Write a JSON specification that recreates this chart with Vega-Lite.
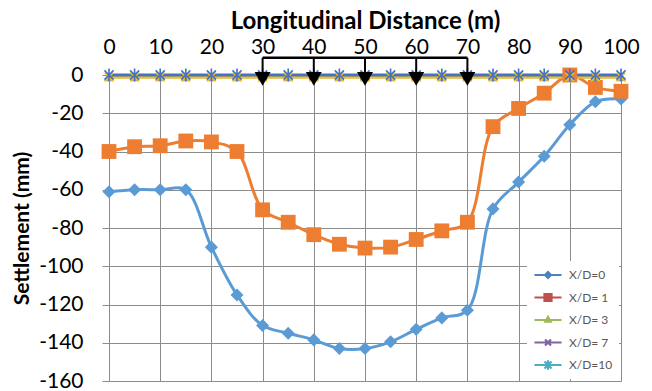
{
  "$schema": "https://vega.github.io/schema/vega-lite/v6.json",
  "width": 512,
  "height": 306,
  "autosize": {"type": "none"},
  "padding": {"left": 109, "top": 75, "right": 31, "bottom": 10},
  "background": "white",
  "config": {"font": "Lato", "view": {"stroke": null}},
  "datasets": {
    "main": [
      {"x": 0, "s": "X/D=0", "y": -61}, {"x": 5, "s": "X/D=0", "y": -60}, {"x": 10, "s": "X/D=0", "y": -60}, {"x": 15, "s": "X/D=0", "y": -60}, {"x": 20, "s": "X/D=0", "y": -90}, {"x": 25, "s": "X/D=0", "y": -115}, {"x": 30, "s": "X/D=0", "y": -131}, {"x": 35, "s": "X/D=0", "y": -135}, {"x": 40, "s": "X/D=0", "y": -138.5}, {"x": 45, "s": "X/D=0", "y": -143}, {"x": 50, "s": "X/D=0", "y": -143}, {"x": 55, "s": "X/D=0", "y": -139.5}, {"x": 60, "s": "X/D=0", "y": -133}, {"x": 65, "s": "X/D=0", "y": -127}, {"x": 70, "s": "X/D=0", "y": -123}, {"x": 75, "s": "X/D=0", "y": -70}, {"x": 80, "s": "X/D=0", "y": -56}, {"x": 85, "s": "X/D=0", "y": -42.5}, {"x": 90, "s": "X/D=0", "y": -26}, {"x": 95, "s": "X/D=0", "y": -14}, {"x": 100, "s": "X/D=0", "y": -12.5},
      {"x": 0, "s": "X/D= 1", "y": -40}, {"x": 5, "s": "X/D= 1", "y": -37.5}, {"x": 10, "s": "X/D= 1", "y": -37}, {"x": 15, "s": "X/D= 1", "y": -34.5}, {"x": 20, "s": "X/D= 1", "y": -35}, {"x": 25, "s": "X/D= 1", "y": -40}, {"x": 30, "s": "X/D= 1", "y": -70.5}, {"x": 35, "s": "X/D= 1", "y": -77}, {"x": 40, "s": "X/D= 1", "y": -83.5}, {"x": 45, "s": "X/D= 1", "y": -88.5}, {"x": 50, "s": "X/D= 1", "y": -90.5}, {"x": 55, "s": "X/D= 1", "y": -90}, {"x": 60, "s": "X/D= 1", "y": -86}, {"x": 65, "s": "X/D= 1", "y": -81.5}, {"x": 70, "s": "X/D= 1", "y": -77}, {"x": 75, "s": "X/D= 1", "y": -27}, {"x": 80, "s": "X/D= 1", "y": -17.5}, {"x": 85, "s": "X/D= 1", "y": -9.5}, {"x": 90, "s": "X/D= 1", "y": 0}, {"x": 95, "s": "X/D= 1", "y": -6.5}, {"x": 100, "s": "X/D= 1", "y": -8.5},
      {"x": 0, "s": "X/D= 3", "y": -1}, {"x": 5, "s": "X/D= 3", "y": -1}, {"x": 10, "s": "X/D= 3", "y": -1}, {"x": 15, "s": "X/D= 3", "y": -1}, {"x": 20, "s": "X/D= 3", "y": -1}, {"x": 25, "s": "X/D= 3", "y": -1}, {"x": 30, "s": "X/D= 3", "y": -1}, {"x": 35, "s": "X/D= 3", "y": -1}, {"x": 40, "s": "X/D= 3", "y": -1}, {"x": 45, "s": "X/D= 3", "y": -1}, {"x": 50, "s": "X/D= 3", "y": -1}, {"x": 55, "s": "X/D= 3", "y": -1}, {"x": 60, "s": "X/D= 3", "y": -1}, {"x": 65, "s": "X/D= 3", "y": -1}, {"x": 70, "s": "X/D= 3", "y": -1}, {"x": 75, "s": "X/D= 3", "y": -1}, {"x": 80, "s": "X/D= 3", "y": -1}, {"x": 85, "s": "X/D= 3", "y": -1}, {"x": 90, "s": "X/D= 3", "y": -1}, {"x": 95, "s": "X/D= 3", "y": -1}, {"x": 100, "s": "X/D= 3", "y": -1},
      {"x": 0, "s": "X/D= 7", "y": -1}, {"x": 5, "s": "X/D= 7", "y": -1}, {"x": 10, "s": "X/D= 7", "y": -1}, {"x": 15, "s": "X/D= 7", "y": -1}, {"x": 20, "s": "X/D= 7", "y": -1}, {"x": 25, "s": "X/D= 7", "y": -1}, {"x": 30, "s": "X/D= 7", "y": -1}, {"x": 35, "s": "X/D= 7", "y": -1}, {"x": 40, "s": "X/D= 7", "y": -1}, {"x": 45, "s": "X/D= 7", "y": -1}, {"x": 50, "s": "X/D= 7", "y": -1}, {"x": 55, "s": "X/D= 7", "y": -1}, {"x": 60, "s": "X/D= 7", "y": -1}, {"x": 65, "s": "X/D= 7", "y": -1}, {"x": 70, "s": "X/D= 7", "y": -1}, {"x": 75, "s": "X/D= 7", "y": -1}, {"x": 80, "s": "X/D= 7", "y": -1}, {"x": 85, "s": "X/D= 7", "y": -1}, {"x": 90, "s": "X/D= 7", "y": -1}, {"x": 95, "s": "X/D= 7", "y": -1}, {"x": 100, "s": "X/D= 7", "y": -1},
      {"x": 0, "s": "X/D=10", "y": 0}, {"x": 5, "s": "X/D=10", "y": 0}, {"x": 10, "s": "X/D=10", "y": 0}, {"x": 15, "s": "X/D=10", "y": 0}, {"x": 20, "s": "X/D=10", "y": 0}, {"x": 25, "s": "X/D=10", "y": 0}, {"x": 30, "s": "X/D=10", "y": 0}, {"x": 35, "s": "X/D=10", "y": 0}, {"x": 40, "s": "X/D=10", "y": 0}, {"x": 45, "s": "X/D=10", "y": 0}, {"x": 50, "s": "X/D=10", "y": 0}, {"x": 55, "s": "X/D=10", "y": 0}, {"x": 60, "s": "X/D=10", "y": 0}, {"x": 65, "s": "X/D=10", "y": 0}, {"x": 70, "s": "X/D=10", "y": 0}, {"x": 75, "s": "X/D=10", "y": 0}, {"x": 80, "s": "X/D=10", "y": 0}, {"x": 85, "s": "X/D=10", "y": 0}, {"x": 90, "s": "X/D=10", "y": 0}, {"x": 95, "s": "X/D=10", "y": 0}, {"x": 100, "s": "X/D=10", "y": 0}
    ],
    "tri": [{"x": 30, "y": -2}, {"x": 40, "y": -2}, {"x": 50, "y": -2}, {"x": 60, "y": -2}, {"x": 70, "y": -2}],
    "vr": [{"x": 30, "y": 9, "y2": -1}, {"x": 40, "y": 9, "y2": -1}, {"x": 50, "y": 9, "y2": -1}, {"x": 60, "y": 9, "y2": -1}, {"x": 70, "y": 9, "y2": -1}],
    "hr": [{"x": 30, "x2": 70, "y": 9}]
  },
  "encoding": {
    "x": {"field": "x", "type": "quantitative", "scale": {"domain": [0, 100], "nice": false, "zero": false},
      "axis": {"orient": "top", "title": "Longitudinal Distance (m)", "values": [0, 10, 20, 30, 40, 50, 60, 70, 80, 90, 100], "grid": true, "gridColor": "#8c8c8c", "domain": false, "ticks": false, "labelPadding": 18, "labelFontSize": 21, "labelColor": "black", "titleFontSize": 24, "titleFontWeight": "bold", "titleColor": "black", "titlePadding": 3, "labelFlush": false}},
    "y": {"field": "y", "type": "quantitative", "scale": {"domain": [-160, 0], "nice": false, "zero": false},
      "axis": {"title": "Settlement (mm)", "values": [0, -20, -40, -60, -80, -100, -120, -140, -160], "labelExpr": "replace(datum.label, '\u2212', '-')", "grid": true, "gridColor": "#8c8c8c", "domain": false, "ticks": true, "tickColor": "#8c8c8c", "tickSize": 7, "labelPadding": 19, "labelFontSize": 21, "labelColor": "black", "titleFontSize": 21, "titleFontWeight": "bold", "titleColor": "black", "titlePadding": 6}}
  },
  "layer": [
    {
      "data": {"name": "main"},
      "mark": {"type": "point", "filled": true, "strokeWidth": 2.5},
      "encoding": {
        "opacity": {"value": 0},
        "fill": {"field": "s", "type": "nominal",
          "scale": {"domain": ["X/D=0", "X/D= 1", "X/D= 3", "X/D= 7", "X/D=10"], "range": ["#4F81BD", "#C0504D", "#9BBB59", "#8064A2", "#4BACC6"]},
          "legend": {"title": null, "orient": "bottom-right", "offset": 2, "fillColor": "white", "padding": 6, "labelFont": "Lato", "labelFontSize": 12, "labelColor": "#595959", "symbolSize": 729, "clipHeight": 16, "rowPadding": 6.5, "labelOffset": 6, "symbolStrokeWidth": 2.5, "symbolOpacity": 1,
            "encode": {"symbols": {"update": {
              "shape": {"signal": "datum.value === 'X/D=0' ? 'M-1,0H1M0,-0.22L0.22,0L0,0.22L-0.22,0Z' : datum.value === 'X/D= 1' ? 'M-1,0H1M-0.26,-0.26H0.26V0.26H-0.26Z' : datum.value === 'X/D= 3' ? 'M-1,0H1M0,-0.22L0.2,0.13H-0.2Z' : datum.value === 'X/D= 7' ? 'M-1,0H1M-0.22,-0.22L0.22,0.22M-0.22,0.22L0.22,-0.22' : 'M-1,0H1M-0.26,-0.26L0.26,0.26M-0.26,0.26L0.26,-0.26M0,-0.36V0.36'"},
              "strokeWidth": {"value": 2.2},
              "opacity": {"value": 1}
            }}}
          }},
        "stroke": {"field": "s", "type": "nominal",
          "scale": {"domain": ["X/D=0", "X/D= 1", "X/D= 3", "X/D= 7", "X/D=10"], "range": ["#4F81BD", "#C0504D", "#9BBB59", "#8064A2", "#4BACC6"]},
          "legend": {"title": null, "orient": "bottom-right", "offset": 2, "fillColor": "white", "padding": 6, "labelFont": "Lato", "labelFontSize": 12, "labelColor": "#595959", "symbolSize": 729, "clipHeight": 16, "rowPadding": 6.5, "labelOffset": 6, "symbolStrokeWidth": 2.5, "symbolOpacity": 1,
            "encode": {"symbols": {"update": {
              "shape": {"signal": "datum.value === 'X/D=0' ? 'M-1,0H1M0,-0.22L0.22,0L0,0.22L-0.22,0Z' : datum.value === 'X/D= 1' ? 'M-1,0H1M-0.26,-0.26H0.26V0.26H-0.26Z' : datum.value === 'X/D= 3' ? 'M-1,0H1M0,-0.22L0.2,0.13H-0.2Z' : datum.value === 'X/D= 7' ? 'M-1,0H1M-0.22,-0.22L0.22,0.22M-0.22,0.22L0.22,-0.22' : 'M-1,0H1M-0.26,-0.26L0.26,0.26M-0.26,0.26L0.26,-0.26M0,-0.36V0.36'"},
              "strokeWidth": {"value": 2.2},
              "opacity": {"value": 1}
            }}}
          }}
      }
    },
    {
      "data": {"name": "main"},
      "mark": {"type": "line", "interpolate": "catmull-rom", "strokeWidth": 3},
      "encoding": {
        "color": {"field": "s", "type": "nominal", "legend": null,
          "scale": {"domain": ["X/D=0", "X/D= 1", "X/D= 3", "X/D= 7", "X/D=10"], "range": ["#5B9BD5", "#ED7D31", "#A5A5A5", "#FFC000", "#4472C4"]}}
      }
    },
    {
      "data": {"name": "main"},
      "transform": [{"filter": {"field": "s", "equal": "X/D=0"}}],
      "mark": {"type": "point", "shape": "diamond", "filled": true, "opacity": 1, "size": 170, "color": "#5B9BD5"}
    },
    {
      "data": {"name": "main"},
      "transform": [{"filter": {"field": "s", "equal": "X/D= 1"}}],
      "mark": {"type": "point", "shape": "square", "filled": true, "opacity": 1, "size": 220, "color": "#ED7D31"}
    },
    {
      "data": {"name": "main"},
      "transform": [{"filter": {"field": "s", "equal": "X/D= 3"}}],
      "mark": {"type": "point", "shape": "triangle-up", "filled": true, "opacity": 1, "size": 100, "color": "#A5A5A5"}
    },
    {
      "data": {"name": "main"},
      "transform": [{"filter": {"field": "s", "equal": "X/D= 7"}}],
      "mark": {"type": "point", "shape": "M-0.7,-0.7L0.7,0.7M-0.7,0.7L0.7,-0.7", "filled": false, "opacity": 1, "size": 150, "strokeWidth": 1.6, "color": "#FFC000"}
    },
    {
      "data": {"name": "main"},
      "transform": [{"filter": {"field": "s", "equal": "X/D=10"}}],
      "mark": {"type": "point", "shape": "M-0.7,-0.7L0.7,0.7M-0.7,0.7L0.7,-0.7M0,-1V1", "filled": false, "opacity": 1, "size": 170, "strokeWidth": 1.6, "color": "#4472C4"}
    },
    {
      "data": {"name": "hr"},
      "mark": {"type": "rule", "color": "black", "strokeWidth": 2.5},
      "encoding": {"x2": {"field": "x2"}}
    },
    {
      "data": {"name": "vr"},
      "mark": {"type": "rule", "color": "black", "strokeWidth": 2},
      "encoding": {"y2": {"field": "y2"}}
    },
    {
      "data": {"name": "tri"},
      "mark": {"type": "point", "shape": "triangle-down", "filled": true, "color": "black", "opacity": 1, "size": 256}
    }
  ]
}
